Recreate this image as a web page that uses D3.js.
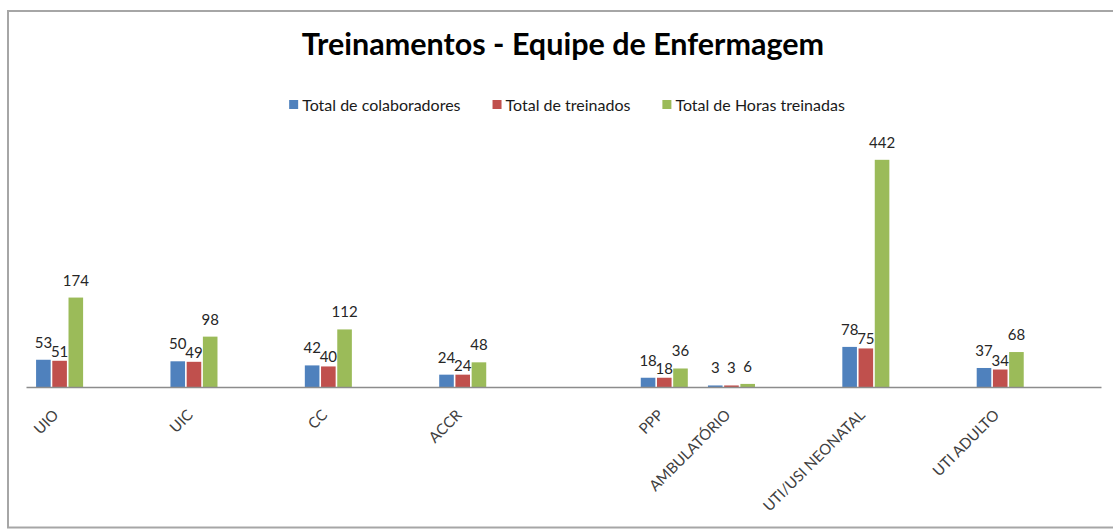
<!DOCTYPE html>
<html>
<head>
<meta charset="utf-8">
<script src="https://cdn.jsdelivr.net/npm/d3@7"></script>
<style>
  html, body { margin: 0; padding: 0; background: #fff; }
  svg { display: block; }
</style>
</head>
<body>
<div class="chart"></div>
<script>
// Data (blank categories are empty rows in the sheet)
const categories = ["UIO", "", "UIC", "", "CC", "", "ACCR", "", "", "PPP", "AMBULATÓRIO", "", "UTI/USI NEONATAL", "", "UTI ADULTO", ""];
const colaboradores = [53, null, 50, null, 42, null, 24, null, null, 18, 3, null, 78, null, 37, null];
const treinados = [51, null, 49, null, 40, null, 24, null, null, 18, 3, null, 75, null, 34, null];
const horasTreinadas = [174, null, 98, null, 112, null, 48, null, null, 36, 6, null, 442, null, 68, null];
const seriesNames = ["Total de colaboradores", "Total de treinados", "Total de Horas treinadas"];
const seriesColors = ["#4F81BD", "#C0504D", "#9BBB59"];
const chartTitle = "Treinamentos - Equipe de Enfermagem";

const seriesValues = [colaboradores, treinados, horasTreinadas];

const width = 1113, height = 532;
const plot = { left: 26, right: 1101, top: 130, bottom: 387 };

const svg = d3.select(".chart").append("svg")
    .attr("width", width)
    .attr("height", height);

svg.append("rect")
    .attr("width", width)
    .attr("height", height)
    .attr("fill", "#fff");

// Chart frame (right edge is cut off in the picture)
svg.append("rect")
    .attr("x", 8)
    .attr("y", 11)
    .attr("width", 1130)
    .attr("height", 516.5)
    .attr("fill", "none")
    .attr("stroke", "#a6a6a6")
    .attr("stroke-width", 2);

// Title
svg.append("text")
    .attr("x", 563)
    .attr("y", 55)
    .attr("text-anchor", "middle")
    .attr("font-family", "Lato")
    .attr("font-weight", "bold")
    .attr("font-size", 30.5)
    .attr("fill", "#000")
    .text(chartTitle);

// Scales
const x = d3.scaleBand()
    .domain(d3.range(categories.length))
    .range([plot.left, plot.right])
    .paddingInner(0.3)
    .paddingOuter(0.15);

const xSeries = d3.scaleBand()
    .domain(d3.range(seriesNames.length))
    .range([0, x.bandwidth()])
    .paddingInner(0.1);

const y = d3.scaleLinear()
    .domain([0, 500])
    .range([plot.bottom, plot.top]);

// Bars
const groups = svg.selectAll("g.cat")
    .data(d3.range(categories.length))
    .enter().append("g")
    .attr("class", "cat")
    .attr("transform", i => `translate(${x(i)},0)`);

groups.selectAll("rect")
    .data(i => seriesValues.map((vals, s) => ({ s, v: vals[i] })).filter(d => d.v != null))
    .enter().append("rect")
    .attr("x", d => xSeries(d.s))
    .attr("y", d => y(d.v))
    .attr("width", xSeries.bandwidth())
    .attr("height", d => y(0) - y(d.v))
    .attr("fill", d => seriesColors[d.s]);

// X axis
const xAxis = d3.axisBottom(x)
    .tickSize(0)
    .tickSizeOuter(0)
    .tickFormat(i => categories[i]);

const axisG = svg.append("g")
    .attr("transform", `translate(0,${plot.bottom})`)
    .call(xAxis);

axisG.select(".domain")
    .attr("stroke", "#8c8c8c")
    .attr("stroke-width", 1.5);

axisG.selectAll(".tick text")
    .attr("font-family", "Lato")
    .attr("font-size", 15)
    .attr("fill", "#404040")
    .attr("text-anchor", "end")
    .attr("dy", null)
    .attr("y", 0)
    .attr("transform", "translate(0,29) rotate(-45)");

// Data labels
const labelFont = 15;
groups.each(function(i) {
    const g = d3.select(this);
    const vals = seriesValues.map(s => s[i]);
    if (vals[0] == null) return;
    const texts = vals.map((v, s) => g.append("text")
        .attr("x", xSeries(s) + xSeries.bandwidth() / 2)
        .attr("y", y(v) - 12)
        .attr("text-anchor", "middle")
        .attr("font-family", "Lato")
        .attr("font-size", labelFont)
        .attr("fill", "#262626")
        .text(v));
    // lower the middle label when it would run into the first one
    const w0 = texts[0].node().getComputedTextLength();
    const w1 = texts[1].node().getComputedTextLength();
    const gap = xSeries.step() - (w0 + w1) / 2;
    const dyTop = Math.abs(y(vals[0]) - y(vals[1]));
    if (gap < 0 && dyTop < 12) {
        texts[1].attr("y", y(vals[1]) - 4);
    }
});

// Legend
const legend = svg.append("g");
let lx = 0;
seriesNames.forEach((name, s) => {
    const item = legend.append("g").attr("transform", `translate(${lx},0)`);
    item.append("rect")
        .attr("x", 0)
        .attr("y", 100)
        .attr("width", 9)
        .attr("height", 9)
        .attr("fill", seriesColors[s]);
    const t = item.append("text")
        .attr("x", 13)
        .attr("y", 111)
        .attr("font-family", "Lato")
        .attr("font-size", 16)
        .attr("fill", "#1a1a1a")
        .text(name);
    lx += 13 + t.node().getComputedTextLength() + 32;
});
const legendWidth = lx - 32;
legend.attr("transform", `translate(${567 - legendWidth / 2},0)`);
</script>
</body>
</html>
